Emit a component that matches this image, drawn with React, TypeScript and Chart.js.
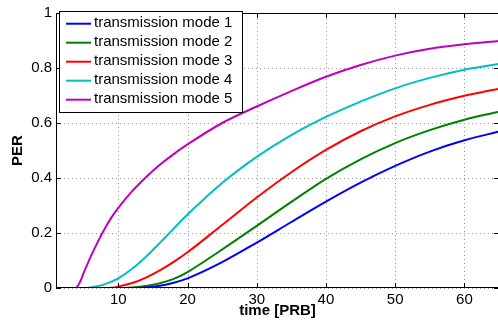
import React, { useEffect, useRef } from "react";
import { Chart, registerables } from "chart.js";

Chart.register(...registerables);

const X_VALUES = [1, 3.8, 4.4, 5, 6, 7, 8, 9, 10, 12, 14, 16, 18, 20, 25, 30, 35, 40, 45, 50, 55, 60, 65];
const MODE1 = [0, 0, 0, 0, 0, 0, 0, 0, 0, 0, 0.002, 0.008, 0.019, 0.035, 0.094, 0.165, 0.24, 0.314, 0.383, 0.444, 0.496, 0.537, 0.569];
const MODE2 = [0, 0, 0, 0, 0, 0, 0, 0, 0, 0.002, 0.007, 0.017, 0.033, 0.058, 0.14, 0.226, 0.313, 0.397, 0.468, 0.527, 0.574, 0.612, 0.641];
const MODE3 = [0, 0, 0, 0, 0, 0, 0, 0.001, 0.005, 0.018, 0.038, 0.064, 0.095, 0.13, 0.229, 0.329, 0.421, 0.502, 0.57, 0.624, 0.666, 0.699, 0.725];
const MODE4 = [0, 0, 0, 0, 0.002, 0.006, 0.013, 0.023, 0.035, 0.07, 0.114, 0.164, 0.216, 0.267, 0.382, 0.477, 0.556, 0.622, 0.678, 0.726, 0.764, 0.794, 0.815];
const MODE5 = [0, 0, 0.018, 0.055, 0.113, 0.166, 0.214, 0.256, 0.291, 0.352, 0.403, 0.448, 0.487, 0.522, 0.6, 0.66, 0.716, 0.768, 0.811, 0.845, 0.87, 0.886, 0.898];

const SERIES_LABELS = [
  "transmission mode 1",
  "transmission mode 2",
  "transmission mode 3",
  "transmission mode 4",
  "transmission mode 5",
];
const SERIES = [MODE1, MODE2, MODE3, MODE4, MODE5];
const COLORS = ["#0000ff", "#008000", "#ff0000", "#00bfbf", "#bf00bf"];

const X_TICKS = [10, 20, 30, 40, 50, 60];
const Y_TICKS = [0, 0.2, 0.4, 0.6, 0.8, 1];

const FONT = '"Liberation Sans", Arial, Helvetica, sans-serif';

const framePlugin = {
  id: "matlabFrame",
  beforeDatasetsDraw(chart: any) {
    const { ctx, chartArea, scales } = chart;
    const { left, right, top, bottom } = chartArea;
    ctx.save();
    ctx.strokeStyle = "#9a9a9a";
    ctx.lineWidth = 1;
    ctx.setLineDash([1, 3]);
    X_TICKS.forEach((v) => {
      const px = Math.round(scales.x.getPixelForValue(v)) + 0.5;
      ctx.beginPath();
      ctx.moveTo(px, bottom);
      ctx.lineTo(px, top);
      ctx.stroke();
    });
    Y_TICKS.forEach((v) => {
      const py = Math.round(scales.y.getPixelForValue(v)) + 0.5;
      ctx.beginPath();
      ctx.moveTo(left, py);
      ctx.lineTo(right, py);
      ctx.stroke();
    });
    ctx.restore();
  },
  afterDatasetsDraw(chart: any) {
    const { ctx, chartArea, scales } = chart;
    const { left, right, top, bottom } = chartArea;
    ctx.save();
    ctx.strokeStyle = "#000";
    ctx.lineWidth = 1;
    ctx.setLineDash([]);
    ctx.strokeRect(left + 0.5, top + 0.5, right - left - 1, bottom - top - 1);
    const tl = 5;
    ctx.beginPath();
    X_TICKS.forEach((v) => {
      const px = Math.round(scales.x.getPixelForValue(v)) + 0.5;
      ctx.moveTo(px, bottom);
      ctx.lineTo(px, bottom - tl);
      ctx.moveTo(px, top);
      ctx.lineTo(px, top + tl);
    });
    Y_TICKS.forEach((v) => {
      const py = Math.round(scales.y.getPixelForValue(v)) + 0.5;
      ctx.moveTo(left, py);
      ctx.lineTo(left + tl, py);
      ctx.moveTo(right, py);
      ctx.lineTo(right - tl, py);
    });
    ctx.stroke();
    ctx.restore();
  },
  afterDraw(chart: any) {
    const { ctx } = chart;
    ctx.save();
    const bx = 59.5, by = 11.5, bw = 183, bh = 101;
    ctx.fillStyle = "#fff";
    ctx.fillRect(bx, by, bw, bh);
    ctx.strokeStyle = "#000";
    ctx.lineWidth = 1;
    ctx.strokeRect(bx, by, bw, bh);
    ctx.font = "15px " + FONT;
    ctx.textBaseline = "middle";
    ctx.textAlign = "left";
    chart.data.datasets.forEach((ds: any, i: number) => {
      const y = 23.7 + 19 * i;
      ctx.strokeStyle = ds.borderColor;
      ctx.lineWidth = 2;
      ctx.beginPath();
      ctx.moveTo(66, y);
      ctx.lineTo(91, y);
      ctx.stroke();
      ctx.fillStyle = "#000";
      ctx.fillText(ds.label, 94, y - 0.5);
    });
    ctx.restore();
  },
};

export default function App() {
  const canvasRef = useRef<HTMLCanvasElement | null>(null);

  useEffect(() => {
    document.body.style.margin = "0";
    document.body.style.overflow = "hidden";
    const canvas = canvasRef.current;
    if (!canvas) return;
    const datasets = SERIES.map((vals, i) => ({
      label: SERIES_LABELS[i],
      data: X_VALUES.map((x, j) => ({ x, y: vals[j] })),
      borderColor: COLORS[i],
      backgroundColor: COLORS[i],
      borderWidth: 2,
      pointRadius: 0,
      cubicInterpolationMode: "monotone" as const,
      fill: false,
    }));
    const chart = new Chart(canvas, {
      type: "line",
      data: { datasets },
      options: {
        responsive: false,
        animation: false,
        devicePixelRatio: 1,
        layout: { padding: { top: 9, left: 0, right: 0, bottom: 0 } },
        plugins: {
          legend: { display: false },
          tooltip: { enabled: false },
        },
        scales: {
          x: {
            type: "linear",
            min: 1,
            max: 65,
            grid: { display: false, drawTicks: false },
            border: { display: false },
            afterBuildTicks: (scale: any) => {
              scale.ticks = X_TICKS.map((v) => ({ value: v }));
            },
            afterFit: (scale: any) => {
              scale.height = 38;
            },
            ticks: {
              color: "#000",
              padding: 3,
              maxRotation: 0,
              font: { family: FONT, size: 15 },
              callback: (v: any) => String(v),
            },
            title: {
              display: true,
              text: "time [PRB]",
              color: "#000",
              font: { family: FONT, size: 15, weight: "bold" },
              padding: { top: 0, bottom: 6 },
            },
          },
          y: {
            type: "linear",
            min: 0,
            max: 1,
            grid: { display: false, drawTicks: false },
            border: { display: false },
            afterBuildTicks: (scale: any) => {
              scale.ticks = Y_TICKS.map((v) => ({ value: v }));
            },
            afterFit: (scale: any) => {
              scale.width = 56;
            },
            ticks: {
              color: "#000",
              padding: 4,
              font: { family: FONT, size: 15 },
              callback: (v: any) => String(Math.round(Number(v) * 10) / 10),
            },
            title: {
              display: true,
              text: "PER",
              color: "#000",
              font: { family: FONT, size: 15, weight: "bold" },
              padding: { top: 9, bottom: 0 },
            },
          },
        },
      },
      plugins: [framePlugin],
    });
    return () => {
      chart.destroy();
    };
  }, []);

  return (
    <div style={{ width: 498, height: 326, overflow: "hidden", background: "#fff" }}>
      <canvas ref={canvasRef} width={499} height={326} style={{ display: "block" }} />
    </div>
  );
}
